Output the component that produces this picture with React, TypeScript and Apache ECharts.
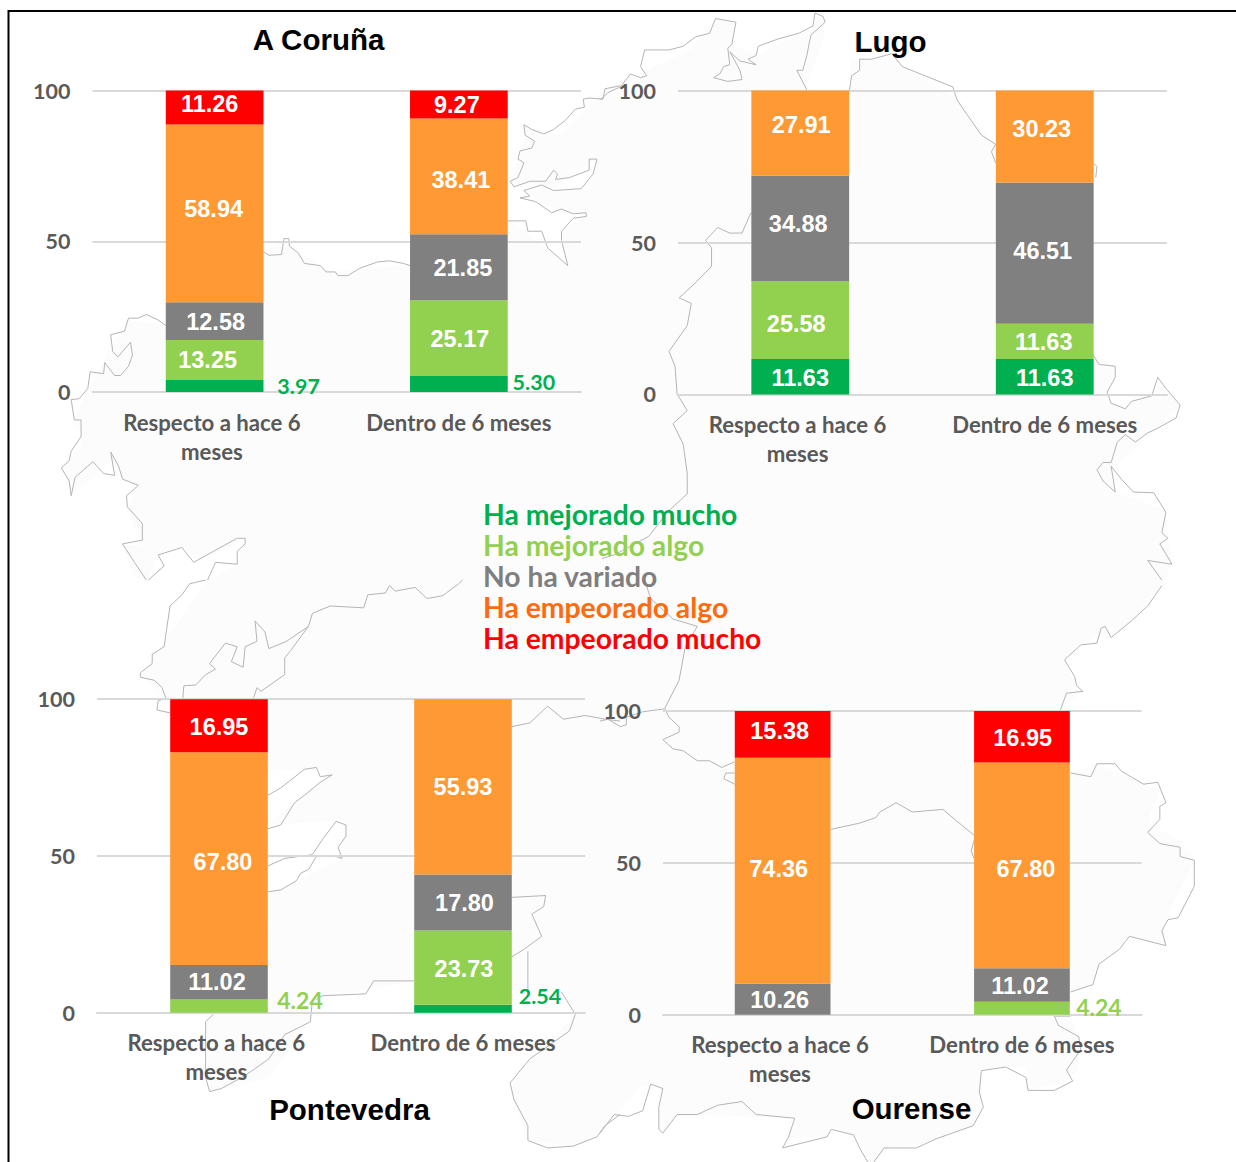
import React, { useEffect, useRef } from "react";
import * as echarts from "echarts";

const levels = ["Ha mejorado mucho", "Ha mejorado algo", "No ha variado", "Ha empeorado algo", "Ha empeorado mucho"];
const barColors = ["#00B050", "#92D050", "#808080", "#FF9933", "#FF0000"];
const legendColors = ["#00B050", "#92D050", "#7F7F7F", "#FF6A0D", "#FF0000"];
const categories = ["Respecto a hace 6 meses ", "Dentro de 6 meses"];
const yTicks = { min: 0, max: 100, interval: 50 };

// values: one row per level, [Respecto a hace 6 meses, Dentro de 6 meses]
const aCorunaValues = [[3.97, 5.30], [13.25, 25.17], [12.58, 21.85], [58.94, 38.41], [11.26, 9.27]];
const lugoValues = [[11.63, 11.63], [25.58, 11.63], [34.88, 46.51], [27.91, 30.23], [null, null]];
const pontevedraValues = [[null, 2.54], [4.24, 23.73], [11.02, 17.80], [67.80, 55.93], [16.95, null]];
const ourenseValues = [[null, null], [null, 4.24], [10.26, 11.02], [74.36, 67.80], [15.38, 16.95]];

// hand-placed label nudges from the reference
const aCorunaNudges = [[[84, 0], [75, -2.5]], [[-7, 0], [1, 0.5]], [[1, 0.5], [4, 0.5]], [[-1, -4], [2, 3.4]], [[-5, -3.6], [-2, 0]]];
const lugoNudges = [[[0, 1], [0, 1]], [[-4, 4], [-1, 1]], [[-2, -4.6], [-2, -2]], [[1, -8.3], [-3, -7.8]], [[0, 0], [0, 0]]];
const pontevedraNudges = [[[0, 0], [77, -13]], [[81, -6], [1, 1]], [[-2, 0], [1.5, 0]], [[4, 3], [0, 0.5]], [[0, 1], [0, 0]]];
const ourenseNudges = [[[0, 0], [0, 0]], [[0, 0], [77, -1]], [[-3, 0.7], [-2, 0.7]], [[-4, -1.8], [4, 3.4]], [[-3, -3.3], [0.7, 1.5]]];

const panels = [
  { title: "A Coruña", tx: 319, ty: 40, left: 92.5, right: 581, top: 90.6, bottom: 392, values: aCorunaValues, nudges: aCorunaNudges },
  { title: "Lugo", tx: 891, ty: 42, left: 678, right: 1167, top: 90.6, bottom: 394.4, values: lugoValues, nudges: lugoNudges },
  { title: "Pontevedra", tx: 350, ty: 1110, left: 97, right: 585, top: 699.2, bottom: 1012.8, values: pontevedraValues, nudges: pontevedraNudges },
  { title: "Ourense", tx: 912, ty: 1109, left: 663, right: 1141.6, top: 711, bottom: 1014.7, values: ourenseValues, nudges: ourenseNudges },
];

// background map of Galicia
const Z1 = [0, 0, 2.529, 2.703];
const Z2 = [600, 0, 2.465, 2.703];
const Z3 = [0, 580, 2.529, 2.694];
const Z4 = [600, 580, 2.465, 2.694];
const mapTraces: [number[], number[]][] = [
  [Z1, [1568,232,1530,240,1525,268,1490,265,1475,268,1478,290,1455,295,1430,325,1400,350,1375,362,1345,350,1325,337,1328,365,1352,382,1345,400,1315,408,1310,430,1325,440,1310,480,1290,490,1300,505,1340,490,1380,490,1400,460,1410,470,1405,485,1440,480,1490,460,1490,430,1510,430,1500,470,1470,510,1400,515,1370,500,1325,515,1340,530,1315,535,1355,545,1395,575,1420,565,1450,578,1482,575,1483,585,1450,590,1420,625,1420,650,1436,718,1385,670,1370,625,1335,625,1330,597,1285,597]],
  [Z1, [666,680,680,690,712,688,718,645,730,645,732,665,755,685,770,712,810,718,825,735,848,735,855,745,880,745,910,725,955,708,985,705,1020,712,1037,718]],
  [Z1, [419,880,400,865,370,850,350,860,325,860,315,895,280,905,285,950,298,965,330,925,335,960,325,990,305,1015,290,1015,265,980,262,1010,228,1005,222,1050,200,1078,180,1080,188,1135,205,1135,205,1180,180,1220,175,1245,155,1265,175,1300,180,1340,190,1290,235,1248,262,1280,290,1285,280,1222,300,1260,310,1295,350,1312,320,1340,322,1370,360,1415,360,1460,310,1470,340,1520,370,1568]],
  [Z1, [375,1568,415,1530,400,1500,460,1480,490,1520,540,1490,600,1455,620,1455,620,1470,600,1490,600,1525,545,1520,525,1568]],
  [Z3, [520,0,480,10,460,40,430,70,415,180,385,200,385,225,355,250,355,262,390,270,410,290,420,320,400,325,397,350,430,358]],
  [Z3, [462,321,465,285,495,283,520,255,545,240,530,225,570,170,600,180,585,220,615,235,620,180,650,165,645,110,670,140,680,185,725,165,780,125,735,190,720,210,720,255,660,300,650,290,640,321]],
  [Z3, [780,125,790,90,835,70,920,75,930,40,975,35,985,15,1000,30,1050,20,1080,50,1120,42,1160,10,1170,0]],
  [Z2, [0,270,20,250,50,235,75,200,100,210,115,205,100,180,110,135,170,135,205,125,235,100,270,90,285,50,335,60,325,120,315,130,320,175,305,180,295,200,280,210,315,220,350,215,345,190,320,140,345,165,385,175,365,160,385,150,390,125,440,105,490,90,525,70,530,35,550,45,555,60,520,95,515,120,510,150,500,190,485,190,510,243]],
  [Z2, [615,243,620,205,640,190,640,160,670,160,720,145,745,180,790,200,870,235,880,270,905,310,940,365,975,390,965,410,975,440]],
  [Z2, [1215,440,1225,450,1222,480]],
  [Z2, [1216,960,1230,985,1270,990,1270,1020,1250,1060,1260,1090,1295,1105,1310,1085,1360,1070,1375,1020,1395,1050,1430,1095,1420,1130,1370,1160,1350,1170,1320,1195,1295,1175,1275,1195,1260,1250,1240,1250,1225,1270,1240,1300,1270,1330,1260,1260,1285,1295,1315,1330,1365,1332,1395,1385,1385,1440,1400,1455,1380,1470,1410,1525,1350,1515,1385,1568]],
  [Z4, [1385,15,1350,70,1310,110,1260,155,1245,125,1235,130,1225,170,1185,175,1145,215,1170,260,1175,285,1190,300,1150,305,1135,350]],
  [Z2, [372,575,350,630,320,630,290,615,260,650,275,670,275,720,230,770,195,805,225,820,215,880,170,950,185,990,190,1065,215,1110,180,1145,205,1200,215,1280,215,1335,170,1380,120,1450,35,1500,5,1510]],
  [Z4, [110,0,125,50,180,105,240,125,210,180,195,270,160,345]],
  [Z4, [0,380,20,375,50,395,65,390,65,370,105,355,160,347,170,370,195,395,195,410,155,430,180,455,205,460,240,487,270,487,300,505,332,490]],
  [Z4, [332,520,310,520,305,535,332,550]],
  [Z4, [568,672,640,655,680,640,690,625,730,600,770,625,845,618,880,650,925,690,915,730,922,750]],
  [Z4, [1160,520,1210,530,1225,495,1270,495,1285,515,1340,550,1375,545,1395,600,1380,610,1380,645,1350,680,1380,710,1430,720,1430,745,1465,755,1465,825,1425,910,1400,915,1385,945,1395,985,1305,960,1280,995,1230,1035,1215,1090,1160,1110]],
  [Z4, [1160,1175,1120,1175,1130,1200,1180,1230,1185,1265,1150,1320,1165,1350,1120,1375,1055,1375,1050,1340,1000,1312,940,1322,935,1380,945,1420,920,1470,830,1505,780,1530,700,1530,675,1568]],
  [Z4, [0,1490,35,1440,70,1445,105,1430,125,1358,155,1370,145,1420,145,1480,155,1490,190,1440,240,1440,290,1415,350,1405,385,1440,480,1450,465,1500,450,1530,560,1500,570,1480,625,1495,640,1530,660,1568]],
  [Z3, [678,580,710,560,770,510,800,505,810,530,840,525,810,545,770,580,745,600,710,660,678,670]],
  [Z3, [678,770,720,750,790,740,815,700,850,650,875,660,875,690,855,720,865,750,850,745,800,745,780,780,760,790,750,810,710,835,678,840]],
  [Z3, [1295,395,1340,385,1385,340,1425,375,1480,365,1530,375,1568,380]],
  [Z3, [800,1130,815,1120,925,1115,945,1080,1047,1080]],
  [Z3, [1295,855,1380,850,1375,880,1345,900,1370,960,1325,995,1295,1015]],
  [Z3, [1335,1000,1335,1110]],
  [Z3, [1420,1110,1455,1170,1440,1215,1340,1290,1290,1355,1300,1400,1335,1470,1335,1510,1385,1530,1450,1525,1510,1500,1530,1470,1568,1440]],
  [Z3, [790,1130,785,1190,720,1225,680,1290,620,1335,560,1370,530,1378,520,1340,520,1190,540,1170]],
];
const mapSilhouette = [[88,392],[72,420],[81,435],[81,445],[62,468],[71,496],[110,462],[115,475],[138,485],[127,510],[142,545],[123,545],[134,577],[148,580],[158,555],[182,548],[200,562],[245,538],[237,565],[208,580],[165,640],[140,675],[165,700],[160,712],[268,770],[330,770],[268,825],[345,820],[340,860],[270,892],[268,1000],[213,1014],[205,1022],[210,1091],[268,1078],[310,1022],[316,999],[414,981],[561,992],[575,1014],[530,1060],[510,1090],[528,1140],[575,1147],[600,1133],[642,1085],[660,1088],[659,1130],[663,1133],[677,1114],[795,1118],[783,1138],[827,1137],[831,1129],[860,1135],[868,1162],[873,1162],[890,1148],[937,1140],[973,1125],[983,1107],[980,1070],[1000,1067],[1026,1067],[1028,1090],[1066,1081],[1078,1070],[1080,1040],[1070,1016],[1070,992],[1092,985],[1100,964],[1130,936],[1166,945],[1165,920],[1195,860],[1180,840],[1160,830],[1148,820],[1160,790],[1125,775],[1095,764],[1070,772],[1060,710],[1083,690],[1077,690],[1065,660],[1080,645],[1098,635],[1110,640],[1162,586],[1172,563],[1170,545],[1165,510],[1115,492],[1111,470],[1150,435],[1180,405],[1160,385],[1125,408],[1107,400],[1115,366],[1093,355],[1093,165],[995,145],[960,100],[880,55],[850,60],[850,90],[805,90],[825,35],[822,15],[808,30],[758,55],[732,45],[735,20],[715,20],[690,50],[605,90],[590,105],[560,135],[520,125],[525,137],[510,185],[550,190],[598,158],[590,190],[520,190],[560,212],[586,216],[560,232],[567,265],[524,231],[510,221],[410,265],[330,272],[285,240],[263,252],[165,325],[125,320]];

const tr = (z: number[], p: number[]) => {
  const out: number[][] = [];
  for (let i = 0; i < p.length; i += 2) out.push([z[0] + p[i] / z[2], z[1] + p[i + 1] / z[3]]);
  return out;
};

const W = 1236;
const H = 1162;
const sans = "'Liberation Sans', Arial, sans-serif";
const lato = "Lato, sans-serif";

export default function App() {
  const ref = useRef<HTMLDivElement>(null);
  useEffect(() => {
    const chart = echarts.init(ref.current!, undefined, { renderer: "svg" });
    const series: any[] = [];
    panels.forEach((p, pi) => {
      p.values.forEach((row, li) => {
        series.push({
          name: levels[li],
          type: "bar",
          stack: p.title,
          xAxisIndex: pi,
          yAxisIndex: pi,
          barWidth: "40%",
          itemStyle: { color: barColors[li] },
          data: row.map((v, ci) => {
            const outside = v !== null && v < 6;
            return {
              value: v,
              label: {
                show: v !== null,
                position: "inside",
                offset: p.nudges[li][ci],
                formatter: (o: any) => Number(o.value).toFixed(2),
                color: outside ? barColors[li] : "#FFFFFF",
                fontFamily: outside ? lato : sans,
                fontWeight: "bold",
                fontSize: outside ? (li === 1 ? 23 : 21.5) : 23.5,
              },
            };
          }),
        });
      });
    });
    chart.setOption({
      animation: false,
      backgroundColor: "#FFFFFF",
      title: panels.map((p) => ({
        text: p.title,
        left: p.tx - 5.5,
        top: p.ty - 21,
        textAlign: "center",
        textStyle: { fontFamily: sans, fontWeight: "bold", fontSize: 29.5, color: "#000000" },
      })),
      legend: {
        orient: "vertical",
        left: 478,
        top: 499,
        selectedMode: false,
        itemWidth: 0,
        itemHeight: 0,
        itemGap: 0,
        padding: 0,
        data: levels.map((n, i) => ({
          name: n,
          icon: "none",
          textStyle: { color: legendColors[i], fontFamily: lato, fontWeight: "bold", fontSize: 28.3, lineHeight: 30.8, height: 30.8 },
        })),
      },
      grid: panels.map((p) => ({ left: p.left, width: p.right - p.left, top: p.top, height: p.bottom - p.top })),
      xAxis: panels.map((_, i) => ({
        type: "category",
        gridIndex: i,
        data: categories,
        axisTick: { show: false },
        axisLine: { lineStyle: { color: "#D9D9D9", width: 2 } },
        axisLabel: {
          interval: 0,
          width: 210,
          overflow: "break",
          margin: 15.5,
          lineHeight: 29,
          color: "#595959",
          fontFamily: lato,
          fontWeight: "bold",
          fontSize: 22.2,
        },
      })),
      yAxis: panels.map((_, i) => ({
        type: "value",
        gridIndex: i,
        min: yTicks.min,
        max: yTicks.max,
        interval: yTicks.interval,
        axisLine: { show: false },
        axisTick: { show: false },
        splitLine: { lineStyle: { color: "#D9D9D9", width: 2 } },
        axisLabel: { margin: 22, color: "#595959", fontFamily: lato, fontWeight: "bold", fontSize: 21.5, padding: [0, 0, 3, 0] },
      })),
      graphic: {
        elements: [
          { type: "polygon", silent: true, z: -3, shape: { points: mapSilhouette }, style: { fill: "#FCFCFC", stroke: "none" } },
          ...mapTraces.map(([z, pts]) => ({
            type: "polyline",
            silent: true,
            z: -2,
            shape: { points: tr(z, pts) },
            style: { stroke: "#B5B5B5", lineWidth: 1, fill: "none" },
          })),
          { type: "polyline", silent: true, z: 10, shape: { points: [[8.5, 1162], [8.5, 11], [1236, 11]] }, style: { stroke: "#000000", lineWidth: 2, fill: "none" } },
        ],
      },
      series,
    });
    return () => chart.dispose();
  }, []);
  return <div ref={ref} style={{ position: "absolute", left: 0, top: 0, width: W, height: H }} />;
}
